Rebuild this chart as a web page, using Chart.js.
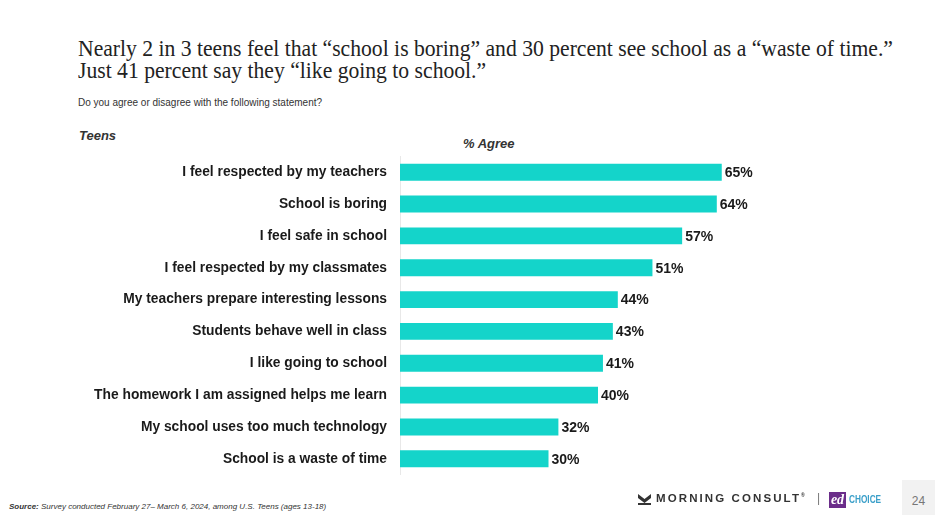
<!DOCTYPE html>
<html>
<head>
<meta charset="utf-8">
<script src="https://cdn.jsdelivr.net/npm/chart.js@4.4.1/dist/chart.umd.min.js"></script>
<style>
  html, body { margin: 0; padding: 0; background: #fff; }
  body { width: 935px; height: 515px; position: relative; overflow: hidden; font-family: "Liberation Sans", Arial, sans-serif; }
  .abs { position: absolute; white-space: nowrap; }
  #title { left: 78px; top: 38px; font-family: "Liberation Serif", serif; font-size: 23px; line-height: 22px; color: #222; transform: scaleX(0.941); transform-origin: left top; }
  #sub { left: 78px; top: 97px; font-size: 10px; color: #333; }
  #teens { left: 79px; top: 128px; font-size: 13px; font-weight: bold; font-style: italic; color: #333; }
  #agree { left: 463px; top: 136px; font-size: 13px; font-weight: bold; font-style: italic; color: #333; }
  #src { left: 9px; top: 502px; font-size: 8px; font-style: italic; color: #333; }
  #wrap { position: absolute; left: 0; top: 135px; width: 935px; height: 361px; }
  #mc { left: 656px; top: 492px; font-size: 11.5px; font-weight: bold; letter-spacing: 2.1px; color: #333; }
  #bar { left: 817px; top: 491px; font-size: 12px; color: #777; }
  #ed { left: 829px; top: 492px; width: 17px; height: 16px; background: #6b2d8a; color: #fff; font-family: "Liberation Serif", serif; font-style: italic; font-weight: bold; font-size: 14px; line-height: 15px; text-align: center; }
  #choice { left: 849px; top: 493px; font-size: 11px; font-weight: bold; color: #3a9fc9; transform: scaleX(0.75); transform-origin: left; }
  #pg { left: 902px; top: 480px; width: 33px; height: 35px; background: #f2f2f2; color: #777; font-size: 12px; text-align: center; line-height: 42px; }
</style>
</head>
<body>
<div class="abs" id="title">Nearly 2 in 3 teens feel that “school is boring” and 30 percent see school as a “waste of time.”<br>Just 41 percent say they “like going to school.”</div>
<div class="abs" id="sub">Do you agree or disagree with the following statement?</div>
<div class="abs" id="teens">Teens</div>
<div class="abs" id="agree">% Agree</div>
<div id="wrap"><canvas id="c"></canvas></div>
<div class="abs" id="src"><b>Source:</b> Survey conducted February 27– March 6, 2024,  among U.S. Teens (ages 13-18)</div>
<svg class="abs" style="left:638px;top:494px" width="13" height="11" viewBox="0 0 13 11"><path d="M0 0 L6.5 5 L13 0 L13 4 L6.5 9 L0 4 Z" fill="#333"/><rect x="0" y="9" width="13" height="2" fill="#333"/></svg>
<div class="abs" id="mc">MORNING CONSULT<sup style="font-size:5px">®</sup></div>
<div class="abs" id="bar">|</div>
<div class="abs" id="ed">ed</div>
<div class="abs" id="choice">CHOICE</div>
<div class="abs" id="pg">24</div>
<script>
const categories = [
  "I feel respected by my teachers",
  "School is boring",
  "I feel safe in school",
  "I feel respected by my classmates",
  "My teachers prepare interesting lessons",
  "Students behave well in class",
  "I like going to school",
  "The homework I am assigned helps me learn",
  "My school uses too much technology",
  "School is a waste of time"
];
const agreeValues = [65, 64, 57, 51, 44, 43, 41, 40, 32, 30];

const valueLabels = {
  id: 'valueLabels',
  afterDatasetsDraw(chart) {
    const ctx = chart.ctx;
    const meta = chart.getDatasetMeta(0);
    ctx.save();
    ctx.font = 'bold 14px "Liberation Sans", Arial, sans-serif';
    ctx.fillStyle = '#1a1a1a';
    ctx.textAlign = 'left';
    ctx.textBaseline = 'middle';
    meta.data.forEach((bar, i) => {
      ctx.fillText(agreeValues[i] + '%', bar.x + 3, bar.y + 1);
    });
    ctx.restore();
  }
};

new Chart(document.getElementById('c'), {
  type: 'bar',
  data: {
    labels: categories,
    datasets: [{
      data: agreeValues,
      backgroundColor: '#14d4ca',
      borderWidth: 0,
      categoryPercentage: 1,
      barPercentage: 0.53
    }]
  },
  options: {
    indexAxis: 'y',
    responsive: true,
    maintainAspectRatio: false,
    animation: false,
    layout: { padding: { left: 0, right: 40, top: 0, bottom: 0 } },
    plugins: { legend: { display: false }, tooltip: { enabled: false } },
    scales: {
      x: { display: false, min: 0, max: 100 },
      y: {
        afterFit(scale) { scale.width = 400; },
        grid: { display: false, drawTicks: false },
        border: { display: true, color: '#e8e8e8', width: 1 },
        ticks: {
          padding: 13,
          color: '#1a1a1a',
          font: { family: '"Liberation Sans", Arial, sans-serif', size: 13.8, weight: 'bold' }
        }
      }
    }
  },
  plugins: [valueLabels]
});
</script>
</body>
</html>
